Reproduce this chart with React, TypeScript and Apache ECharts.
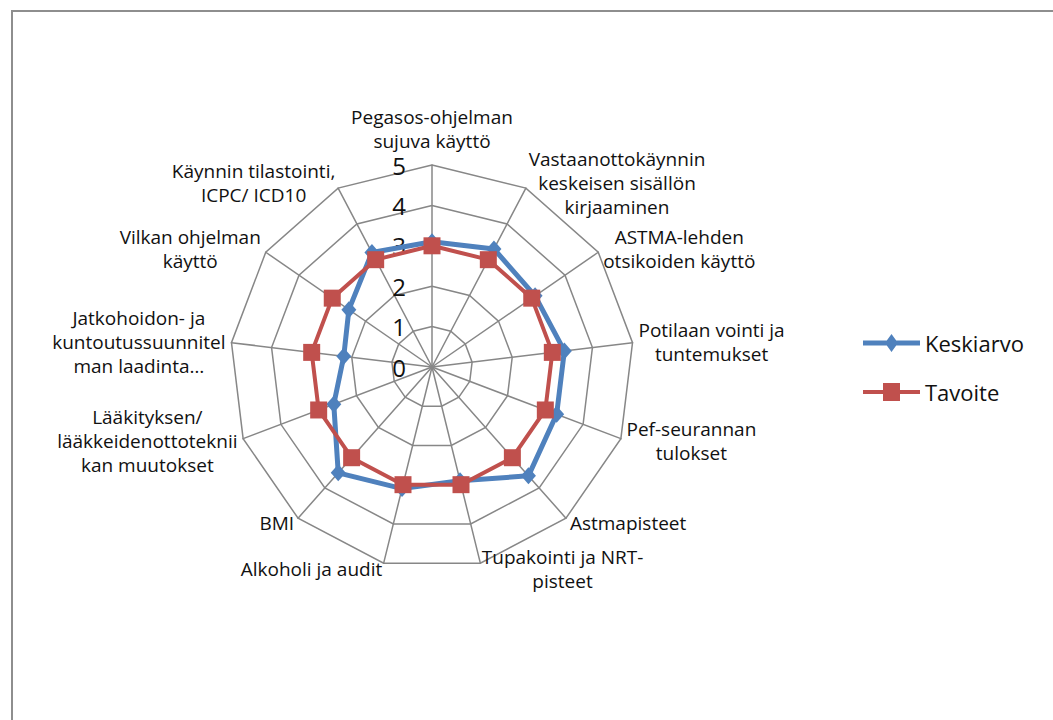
import React, { useEffect, useRef } from "react";
import * as echarts from "echarts";

// ---- data ----
const categories: string[] = [
  "Pegasos-ohjelman\nsujuva käyttö",
  "Vastaanottokäynnin\nkeskeisen sisällön\nkirjaaminen",
  "ASTMA-lehden\notsikoiden käyttö",
  "Potilaan vointi ja\ntuntemukset",
  "Pef-seurannan\ntulokset",
  "Astmapisteet",
  "Tupakointi ja NRT-\npisteet",
  "Alkoholi ja audit",
  "BMI",
  "Lääkityksen/\nlääkkeidenottoteknii\nkan muutokset",
  "Jatkohoidon- ja\nkuntoutussuunnitel\nman laadinta…",
  "Vilkan ohjelman\nkäyttö",
  "Käynnin tilastointi,\nICPC/ ICD10",
];
const keskiarvo: number[] = [3.1, 3.3, 3.1, 3.3, 3.3, 3.6, 2.9, 3.1, 3.5, 2.6, 2.2, 2.5, 3.2];
const tavoite: number[] = [3, 3, 3, 3, 3, 3, 3, 3, 3, 3, 3, 3, 3];
const seriesNames: string[] = ["Keskiarvo", "Tavoite"];
const axisMin = 0;
const axisMax = 5;
const axisSplits = 5;

const FONT = '"Open Sans", "Noto Sans", sans-serif';
const BLUE = "#4F81BD";
const RED = "#C0504D";
const GRID = "#878787";
const TEXT = "#111111";

export default function App() {
  const ref = useRef<HTMLDivElement | null>(null);

  useEffect(() => {
    document.documentElement.style.overflow = "hidden";
    document.body.style.overflow = "hidden";
    if (!ref.current) return;
    const chart = echarts.init(ref.current, undefined, { renderer: "svg" });

    // ECharts radar runs counter-clockwise; Excel runs clockwise.
    const n = categories.length;
    const order = [0];
    for (let k = n - 1; k >= 1; k--) order.push(k);

    const indicator = order.map((i, k) => {
      const ind: any = { name: categories[i], min: axisMin, max: axisMax };
      if (k === 0) {
        ind.axisLabel = {
          show: true,
          fontFamily: FONT,
          fontSize: 24,
          color: TEXT,
          margin: 26,
          formatter: (v: number) => String(Math.round(v)),
        };
      }
      return ind;
    });

    const option: any = {
      animation: false,
      backgroundColor: "#ffffff",
      legend: {
        orient: "vertical",
        left: 850,
        top: 319,
        padding: 0,
        itemWidth: 57,
        itemHeight: 18,
        itemGap: 25,
        textStyle: { fontFamily: FONT, fontSize: 22, lineHeight: 24, color: TEXT },
        data: [
          {
            name: seriesNames[0],
            icon: "path://M0,6.5 L57,6.5 L57,11.5 L0,11.5 Z M28.5,0 L35,9 L28.5,18 L22,9 Z",
          },
          {
            name: seriesNames[1],
            icon: "path://M0,7 L57,7 L57,11 L0,11 Z M20,0 L37,0 L37,18 L20,18 Z",
          },
        ],
      },
      radar: {
        center: [419, 355],
        radius: 202,
        startAngle: 90,
        splitNumber: axisSplits,
        shape: "polygon",
        nameGap: 6,
        indicator,
        axisName: {
          color: TEXT,
          fontFamily: FONT,
          fontSize: 19,
          lineHeight: 24,
          formatter: (name: string) =>
            name
              .split("\n")
              .map((l) => `{c|${l}}`)
              .join("\n"),
          rich: {
            c: { align: "center", fontFamily: FONT, fontSize: 19, lineHeight: 24, color: TEXT },
          },
        },
        axisLine: { show: true, lineStyle: { color: GRID, width: 1.5 } },
        splitLine: { show: true, lineStyle: { color: GRID, width: 1.5 } },
        splitArea: { show: false },
        axisTick: { show: false },
        axisLabel: { show: false },
      },
      series: [
        {
          type: "radar",
          data: [
            {
              name: seriesNames[0],
              value: order.map((i) => keskiarvo[i]),
              symbol: "diamond",
              symbolSize: [15, 17],
              lineStyle: { color: BLUE, width: 5 },
              itemStyle: { color: BLUE },
            },
            {
              name: seriesNames[1],
              value: order.map((i) => tavoite[i]),
              symbol: "rect",
              symbolSize: 17,
              lineStyle: { color: RED, width: 4 },
              itemStyle: { color: RED },
            },
          ],
        },
      ],
    };

    chart.setOption(option);
    return () => chart.dispose();
  }, []);

  return (
    <div
      style={{
        position: "fixed",
        left: 0,
        top: 0,
        right: 0,
        bottom: 0,
        overflow: "hidden",
        background: "#ffffff",
      }}
    >
      <div
        ref={ref}
        style={{
          position: "absolute",
          left: 11,
          top: 10,
          width: 1080,
          height: 730,
          boxSizing: "border-box",
          borderLeft: "2px solid #8e8e8e",
          borderTop: "2px solid #8e8e8e",
        }}
      />
    </div>
  );
}
